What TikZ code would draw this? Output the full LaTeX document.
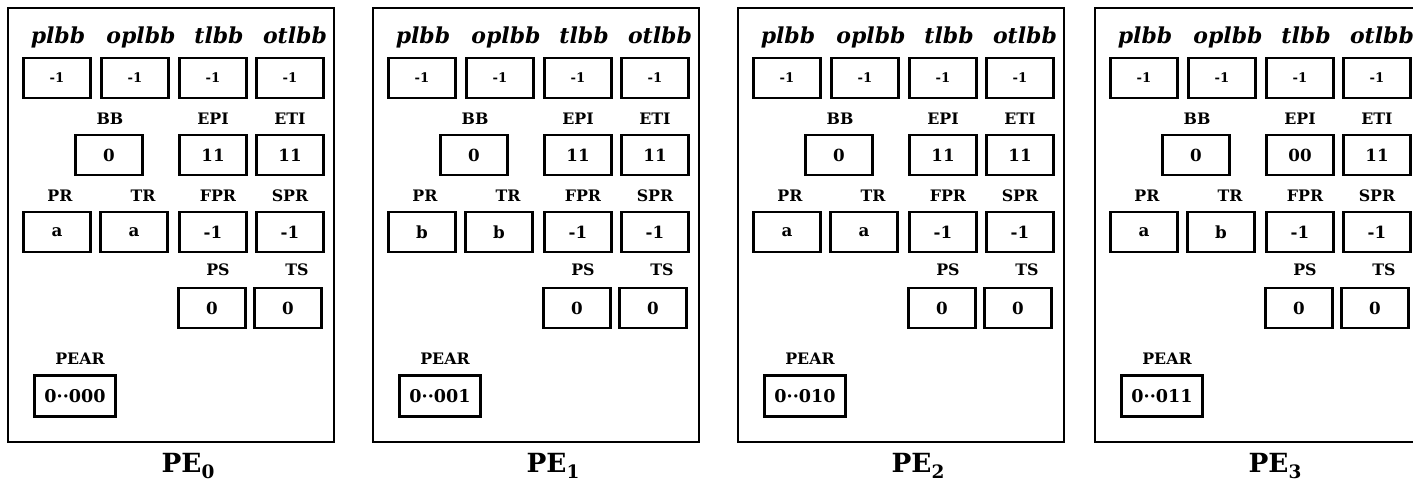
\documentclass[tikz,border=0pt]{standalone}
\usepackage{fontspec}
\setmainfont{DejaVu Serif}
\usetikzlibrary{positioning}
\tikzset{
  reg/.style={rectangle, draw, line width=1.5pt, minimum width=1.34cm,
              minimum height=0.8cm, inner sep=0pt,
              font=\fontsize{9.5}{11}\selectfont\bfseries},
  bitreg/.style={reg, font=\fontsize{7.5}{9}\selectfont\bfseries},
  regname/.style={inner sep=0pt, text depth=0pt,
                  font=\fontsize{9}{11}\selectfont\bfseries},
  bitname/.style={inner sep=0pt, text depth=0pt,
                  font=\fontsize{12.5}{15}\selectfont\bfseries\itshape},
  pebox/.style={draw, line width=1.3pt},
  pename/.style={anchor=base, inner sep=0pt,
                 font=\fontsize{15}{17}\selectfont\bfseries}
}

\begin{document}
\begin{tikzpicture}[x=0.2mm, y=-0.2mm]
  \clip (0,0) rectangle (1413,492);
  \foreach \k/\dx/\pr/\tr/\epi/\pear in
      {0/0/a/a/11/000, 1/365/b/b/11/001, 2/730/a/a/11/010, 3/1087/a/b/00/011}{
    \begin{scope}[shift={(\dx,0)}]
      \draw[pebox] (8,8) rectangle (334,442);
      % link buffer bits
      \node[bitreg] (plbb\k)  at (57,78)  {-1};
      \node[bitreg] (oplbb\k) at (135,78) {-1};
      \node[bitreg] (tlbb\k)  at (213,78) {-1};
      \node[bitreg] (otlbb\k) at (290,78) {-1};
      \node[bitname, above=2.6mm of plbb\k, xshift=0.2mm]  (plbbn\k)  {plbb};
      \node[bitname, above=2.6mm of oplbb\k, xshift=1.2mm] (oplbbn\k) {oplbb};
      \node[bitname, above=2.6mm of tlbb\k, xshift=1.2mm]  (tlbbn\k)  {tlbb};
      \node[bitname, above=2.6mm of otlbb\k, xshift=1mm]   (otlbbn\k) {otlbb};
      % buffer and index registers
      \node[reg] (bb\k)  at (109,155) {0};
      \node[reg] (epi\k) at (213,155) {\epi};
      \node[reg] (eti\k) at (290,155) {11};
      \node[regname, above=1.8mm of bb\k, xshift=0.2mm] (bbn\k) {BB};
      \node[regname, above=1.8mm of epi\k] (epin\k) {EPI};
      \node[regname, above=1.8mm of eti\k] (etin\k) {ETI};
      % pointer registers
      \node[reg] (pr\k)  at (57,232)  {\pr};
      \node[reg] (tr\k)  at (134,232) {\tr};
      \node[reg] (fpr\k) at (213,232) {-1};
      \node[reg] (spr\k) at (290,232) {-1};
      \node[regname, above=1.8mm of pr\k, xshift=0.6mm]  (prn\k)  {PR};
      \node[regname, above=1.8mm of tr\k, xshift=1.8mm]  (trn\k)  {TR};
      \node[regname, above=1.8mm of fpr\k, xshift=1mm]   (fprn\k) {FPR};
      \node[regname, above=1.8mm of spr\k]               (sprn\k) {SPR};
      % status
      \node[reg] (ps\k) at (212,308) {0};
      \node[reg] (ts\k) at (288,308) {0};
      \node[regname, above=2.2mm of ps\k, xshift=1.2mm] (psn\k) {PS};
      \node[regname, above=2.2mm of ts\k, xshift=1.8mm] (tsn\k) {TS};
      % address
      \node[reg, minimum width=1.62cm, minimum height=0.82cm,
            font=\fontsize{10}{12}\selectfont\bfseries] (pear\k) at (75,396)
        {0\textperiodcentered\textperiodcentered\pear};
      \node[regname, above=1.8mm of pear\k, xshift=1mm] (pearn\k) {PEAR};
      \node[pename] (pe\k) at (188,473)
        {PE\raisebox{-0.4ex}{\fontsize{10.5}{10.5}\selectfont\bfseries\k}};
    \end{scope}
  }
\end{tikzpicture}
\end{document}
